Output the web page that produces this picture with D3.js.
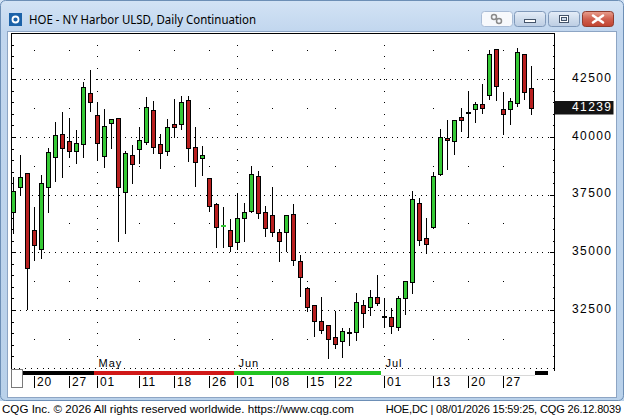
<!DOCTYPE html>
<html>
<head>
<meta charset="utf-8">
<script src="https://cdn.jsdelivr.net/npm/d3@7"></script>
<style>
  body { margin: 0; background: #fff; }
  svg { display: block; font-family: "Liberation Sans", Arial, sans-serif; }
</style>
</head>
<body>
<div id="chart"></div>
<script>
// trading days shown on the chart (Apr 15 .. Jul 31, 2026)
const dates = [
  "2026-04-15","2026-04-16","2026-04-17","2026-04-20","2026-04-21","2026-04-22","2026-04-23","2026-04-24",
  "2026-04-27","2026-04-28","2026-04-29","2026-04-30",
  "2026-05-01","2026-05-04","2026-05-05","2026-05-06","2026-05-07","2026-05-08","2026-05-11","2026-05-12",
  "2026-05-13","2026-05-14","2026-05-15","2026-05-18","2026-05-19","2026-05-20","2026-05-21","2026-05-22",
  "2026-05-26","2026-05-27","2026-05-28","2026-05-29",
  "2026-06-01","2026-06-02","2026-06-03","2026-06-04","2026-06-05","2026-06-08","2026-06-09","2026-06-10",
  "2026-06-11","2026-06-12","2026-06-15","2026-06-16","2026-06-17","2026-06-18","2026-06-22","2026-06-23",
  "2026-06-24","2026-06-25","2026-06-26","2026-06-29","2026-06-30",
  "2026-07-01","2026-07-02","2026-07-06","2026-07-07","2026-07-08","2026-07-09","2026-07-10","2026-07-13",
  "2026-07-14","2026-07-15","2026-07-16","2026-07-17","2026-07-20","2026-07-21","2026-07-22","2026-07-23",
  "2026-07-24","2026-07-27","2026-07-28","2026-07-29","2026-07-30","2026-07-31"
];
const opens = [
  36760,37820,38425,35955,35130,37845,39145,40115,39810,39380,39680,41905,
  40940,39190,40620,40820,37625,39205,39465,39795,41155,39680,39380,40550,40550,41590,39550,39075,38220,37095,36130,35965,
  35435,36475,36790,38310,36745,36605,35880,35865,36660,34610,33440,32705,32010,31835,31315,31170,31505,31560,32705,32615,33065,
  32220,32185,31775,33030,33700,37125,35605,36110,38410,39955,39810,40865,41060,41225,41430,41805,43815,41215,41225,41460,43595,42110
];
const highs = [
  38310,39250,38425,37020,38380,39580,40690,41125,40865,40330,42440,42945,
  41545,41245,40765,40820,39435,39695,40475,41775,41590,40160,40810,41675,41820,41820,40475,39640,38220,37170,37010,36475,
  37625,37180,38785,38570,37050,37875,36040,36660,37125,34915,33540,32705,33105,31835,32485,31750,31775,33265,32965,33395,34060,
  33070,32630,33170,33800,37700,37410,36520,38525,40390,40765,40790,41300,42035,41560,42325,43815,43870,41995,41745,43915,43595,43120
];
const lows = [
  35850,37485,32530,34665,34765,36745,38105,38250,39130,38885,39145,41140,
  39045,38710,39535,35490,35825,37990,38860,39680,39290,38640,39205,39985,40360,38945,37890,38365,36780,35245,35245,35070,
  35130,35505,36760,36475,35705,35720,34635,35070,34450,33120,32470,31385,31515,30405,30865,30450,30980,31200,31750,32295,32730,
  31775,31490,31630,32340,33225,35315,34985,36050,38365,38600,39260,40260,39985,40660,41025,41635,41605,40130,40575,41345,41660,40995
];
const closes = [
  37670,38250,34335,35305,37990,39335,40100,39510,39380,39725,42155,41530,
  39725,40465,40765,37820,39290,38815,39870,41285,39580,39290,40420,40445,41505,39535,38900,39205,36995,36110,36150,35285,
  36485,36745,38395,36690,36040,35895,35475,36605,34655,33945,32615,32035,31620,31255,31040,31575,31530,32835,32380,33065,32815,
  32200,31825,33005,33750,37300,35520,35360,38310,40000,39855,40735,40750,41080,41430,41270,43595,42225,41010,41560,43670,41935,41239
];
const lastPrice = 41239;
const priceTicks = [32500, 35000, 37500, 40000, 42500];
const dayTicks = ["2026-04-20","2026-04-27","2026-05-01","2026-05-11","2026-05-18","2026-05-26","2026-06-01",
                  "2026-06-08","2026-06-15","2026-06-22","2026-07-01","2026-07-13","2026-07-20","2026-07-27"];
const monthStarts = ["2026-05-01","2026-06-01","2026-07-01"];
const monthNames = ["May", "Jun", "Jul"];

const W = 624, H = 416;
const svg = d3.select("#chart").append("svg").attr("width", W).attr("height", H);
const defs = svg.append("defs");

// ---- window chrome ----
const g1 = defs.append("linearGradient").attr("id", "frame").attr("x1", 0).attr("y1", 0).attr("x2", 0).attr("y2", 1);
g1.append("stop").attr("offset", "0").attr("stop-color", "#d3e3f5");
g1.append("stop").attr("offset", "0.08").attr("stop-color", "#c1d6ee");
g1.append("stop").attr("offset", "1").attr("stop-color", "#b9d1ea");
const gBtn = defs.append("linearGradient").attr("id", "btn").attr("x1", 0).attr("y1", 0).attr("x2", 0).attr("y2", 1);
gBtn.append("stop").attr("offset", "0").attr("stop-color", "#e6eef8");
gBtn.append("stop").attr("offset", "0.5").attr("stop-color", "#cfdcec");
gBtn.append("stop").attr("offset", "1").attr("stop-color", "#bccde3");
const gClose = defs.append("linearGradient").attr("id", "close").attr("x1", 0).attr("y1", 0).attr("x2", 0).attr("y2", 1);
gClose.append("stop").attr("offset", "0").attr("stop-color", "#e8a08f");
gClose.append("stop").attr("offset", "0.5").attr("stop-color", "#d0604f");
gClose.append("stop").attr("offset", "1").attr("stop-color", "#c0422f");

svg.append("rect").attr("width", W).attr("height", 401).attr("fill", "url(#frame)");
svg.append("rect").attr("x", 0.5).attr("y", 0.5).attr("width", W - 1).attr("height", 400)
  .attr("fill", "none").attr("stroke", "#6d8fb6").attr("rx", 5);
svg.append("rect").attr("y", 401).attr("width", W).attr("height", 15).attr("fill", "#fff");

// icon + title
svg.append("rect").attr("x", 9).attr("y", 13).attr("width", 13).attr("height", 13).attr("fill", "#1c62a8");
svg.append("circle").attr("cx", 15.5).attr("cy", 19.5).attr("r", 3).attr("fill", "none")
  .attr("stroke", "#fff").attr("stroke-width", 1.8);
svg.append("text").attr("x", 29).attr("y", 24).attr("font-family", "'Segoe UI','Noto Sans',sans-serif")
  .attr("font-size", 12).attr("fill", "#000").attr("textLength", 227).attr("lengthAdjust", "spacingAndGlyphs")
  .text("HOE - NY Harbor ULSD, Daily Continuation");

// caption buttons
svg.append("rect").attr("x", 481.5).attr("y", 11.5).attr("width", 31).attr("height", 15).attr("rx", 3)
  .attr("fill", "#f7f9fc").attr("stroke", "#a9bcd6");
svg.append("circle").attr("cx", 494).attr("cy", 17).attr("r", 2.5).attr("fill", "none").attr("stroke", "#8a8a8a").attr("stroke-width", 1.5);
svg.append("circle").attr("cx", 499).attr("cy", 21).attr("r", 2.5).attr("fill", "none").attr("stroke", "#8a8a8a").attr("stroke-width", 1.5);
[514.5, 548.5].forEach(bx => {
  svg.append("rect").attr("x", bx).attr("y", 11.5).attr("width", 31).attr("height", 15).attr("rx", 3)
    .attr("fill", "url(#btn)").attr("stroke", "#7f98b9");
});
svg.append("rect").attr("x", 524.5).attr("y", 19.5).attr("width", 11).attr("height", 3)
  .attr("fill", "#fff").attr("stroke", "#44546a");
svg.append("rect").attr("x", 559.5).attr("y", 15.5).attr("width", 9).attr("height", 7)
  .attr("fill", "#fff").attr("stroke", "#44546a");
svg.append("rect").attr("x", 561.5).attr("y", 17.5).attr("width", 5).attr("height", 3)
  .attr("fill", "#cfdcec").attr("stroke", "#44546a");
svg.append("rect").attr("x", 582.5).attr("y", 11.5).attr("width", 31).attr("height", 15).attr("rx", 3)
  .attr("fill", "url(#close)").attr("stroke", "#8e3b2e");
svg.append("path").attr("d", "M593,15.5 L603,22.5 M603,15.5 L593,22.5")
  .attr("stroke", "#fff").attr("stroke-width", 2.6).attr("stroke-linecap", "round");

// chart panel
svg.append("rect").attr("x", 7.5).attr("y", 31.5).attr("width", 609).attr("height", 366)
  .attr("fill", "#fff").attr("stroke", "#8da5c4");

// ---- scales ----
const plotL = 11.5, plotR = 554.5, plotT = 33.5, plotB = 368.5;
const x = d3.scaleBand().domain(dates).range([10, 10 + 7 * dates.length]);
const cx = d => x(d) + x.bandwidth() / 2;
const y = d3.scaleLinear().domain([32500, 42500]).range([310, 79.3]);
const py = v => Math.round(y(v)) + 0.5;

defs.append("clipPath").attr("id", "plot").append("rect")
  .attr("x", plotL + 0.5).attr("y", plotT + 0.5).attr("width", plotR - plotL - 1).attr("height", plotB - plotT);

const grid = svg.append("g").attr("shape-rendering", "crispEdges");

// horizontal dotted grid
grid.selectAll(".hg").data(priceTicks).join("line")
  .attr("x1", plotL + 3).attr("x2", plotR - 5).attr("y1", d => py(d)).attr("y2", d => py(d))
  .attr("stroke", "#000").attr("stroke-dasharray", "1 4.8");
// bottom dotted edge
grid.append("line").attr("x1", plotL + 2).attr("x2", plotR).attr("y1", plotB).attr("y2", plotB)
  .attr("stroke", "#000").attr("stroke-dasharray", "1 4.8");

// minor price levels (every 500) for ticks / month lines
const minor = d3.range(30500, 44001, 500).filter(v => y(v) > plotT + 2 && y(v) < plotB - 2);
const midLevels = d3.range(31250, 44001, 2500).filter(v => y(v) > plotT + 2 && y(v) < plotB - 2);

// weekly markers: single dots at mid levels; month starts: dotted full lines
dayTicks.forEach(d => {
  const xx = cx(d);
  const lv = monthStarts.includes(d) ? minor : midLevels;
  grid.selectAll(null).data(lv).join("rect")
    .attr("x", xx - 0.5).attr("y", v => Math.round(y(v))).attr("width", 1).attr("height", 1).attr("fill", "#000");
});

// plot frame (left, top, right solid)
grid.append("path").attr("d", `M${plotL},${plotB + 2}V${plotT}H${plotR}V${plotB + 2}`)
  .attr("fill", "none").attr("stroke", "#000");

// axis ticks inside frame
grid.selectAll(".lt").data(minor).join("line")
  .attr("x1", plotL).attr("x2", v => priceTicks.includes(v) ? plotL + 4 : plotL + 2)
  .attr("y1", v => py(v)).attr("y2", v => py(v)).attr("stroke", "#000");
grid.selectAll(".rt").data(minor).join("line")
  .attr("x1", plotR).attr("x2", v => priceTicks.includes(v) ? plotR - 5 : plotR - 2)
  .attr("y1", v => py(v)).attr("y2", v => py(v)).attr("stroke", "#000");

// ---- candles ----
const bars = dates.map((d, i) => ({ d, o: opens[i], h: highs[i], l: lows[i], c: closes[i] }));
const candles = svg.append("g").attr("clip-path", "url(#plot)").attr("shape-rendering", "crispEdges");
candles.selectAll(".wick").data(bars).join("line")
  .attr("x1", b => cx(b.d)).attr("x2", b => cx(b.d))
  .attr("y1", b => py(b.h)).attr("y2", b => py(b.l))
  .attr("stroke", "#000");
const up = "#35c935", down = "#b81f1f";
bars.forEach(b => {
  const t = py(Math.max(b.o, b.c)), bt = py(Math.min(b.o, b.c));
  const col = b.c >= b.o ? up : down;
  if (bt - t < 1) {
    candles.append("rect").attr("x", cx(b.d) - 2.5).attr("y", t - 1.5).attr("width", 5).attr("height", 2)
      .attr("fill", col);
  } else {
    candles.append("rect").attr("x", cx(b.d) - 2).attr("y", t).attr("width", 4).attr("height", bt - t)
      .attr("fill", col).attr("stroke", "#000");
  }
});

// ---- price labels ----
svg.selectAll(".pl").data(priceTicks).join("text")
  .attr("x", 572).attr("y", d => y(d) + 2.6)
  .attr("font-size", 12).attr("letter-spacing", 1.4).attr("fill", "#000")
  .text(d => d);
svg.append("rect").attr("x", 554.5).attr("y", Math.round(y(lastPrice)) - 7).attr("width", 59).attr("height", 13.5)
  .attr("fill", "#141414");
svg.append("text").attr("x", 572).attr("y", y(lastPrice) + 2.4)
  .attr("font-size", 12).attr("letter-spacing", 1.4).attr("fill", "#fff").text(lastPrice);

// ---- time axis ----
// month labels
monthStarts.forEach((d, i) => {
  svg.append("text").attr("x", cx(d) + 1).attr("y", 367)
    .attr("font-size", 11).attr("letter-spacing", 1).attr("fill", "#000").text(monthNames[i]);
});

// month colour band
const bandCol = { "04": "#000", "05": "#d01818", "06": "#22c422", "07": "#fff" };
const byMonth = d3.groups(dates, d => d.slice(5, 7));
const band = svg.append("g").attr("shape-rendering", "crispEdges");
byMonth.forEach(([m, ds]) => {
  const x0 = Math.max(23, x(ds[0])), x1 = x(ds[ds.length - 1]) + x.bandwidth();
  band.append("rect").attr("x", x0).attr("y", 371).attr("width", x1 - x0).attr("height", 4)
    .attr("fill", bandCol[m]);
});
const endX = x(dates[dates.length - 1]) + x.bandwidth();
band.append("rect").attr("x", endX).attr("y", 371).attr("width", 548 - endX).attr("height", 4).attr("fill", "#000");
band.append("line").attr("x1", x(monthStarts[2])).attr("x2", endX).attr("y1", 375.5).attr("y2", 375.5)
  .attr("stroke", "#d8d8d8");

// scroll box
svg.append("rect").attr("x", 11.5).attr("y", 369.5).attr("width", 11).attr("height", 18)
  .attr("fill", "#fff").attr("stroke", "#7a7a7a").attr("shape-rendering", "crispEdges");

// day ticks
const fmtDay = d3.timeFormat("%d");
const parse = d3.timeParse("%Y-%m-%d");
const dt = svg.append("g");
dt.selectAll("line").data(dayTicks).join("line")
  .attr("x1", d => cx(d)).attr("x2", d => cx(d)).attr("y1", 376).attr("y2", 388)
  .attr("stroke", "#000").attr("shape-rendering", "crispEdges");
dt.selectAll("text").data(dayTicks).join("text")
  .attr("x", d => cx(d) + 2.5).attr("y", 385.5)
  .attr("font-size", 12).attr("letter-spacing", 0.8).attr("fill", "#000")
  .text(d => fmtDay(parse(d)));

// ---- footer ----
svg.append("text").attr("x", 2).attr("y", 413).attr("font-size", 11.5).attr("fill", "#000")
  .attr("textLength", 352).attr("lengthAdjust", "spacingAndGlyphs")
  .text("CQG Inc. \u00a9 2026 All rights reserved worldwide. https://www.cqg.com");
svg.append("text").attr("x", 621).attr("y", 413).attr("text-anchor", "end")
  .attr("font-size", 11).attr("letter-spacing", -0.15).attr("fill", "#000")
  .text("HOE,DC | 08/01/2026 15:59:25, CQG 26.12.8039");
</script>
</body>
</html>
